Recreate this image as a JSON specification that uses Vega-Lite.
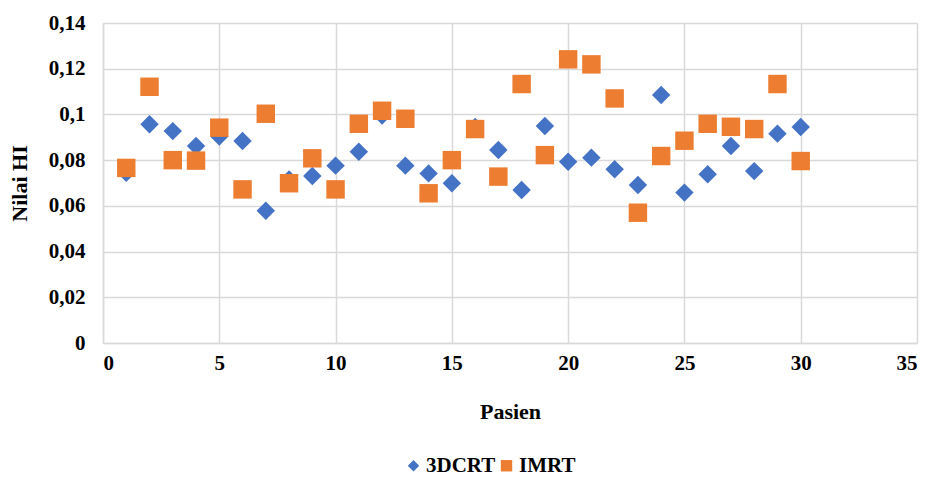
{
  "$schema": "https://vega.github.io/schema/vega-lite/v6.json",
  "width": 814,
  "height": 320,
  "autosize": {"type": "none"},
  "padding": {"left": 103, "top": 23, "right": 14, "bottom": 139},
  "background": "white",
  "data": {
    "values": [
      {"pasien": 1, "series": "3DCRT", "hi": 0.0745},
      {"pasien": 2, "series": "3DCRT", "hi": 0.0957},
      {"pasien": 3, "series": "3DCRT", "hi": 0.0927},
      {"pasien": 4, "series": "3DCRT", "hi": 0.0862},
      {"pasien": 5, "series": "3DCRT", "hi": 0.0903},
      {"pasien": 6, "series": "3DCRT", "hi": 0.0884},
      {"pasien": 7, "series": "3DCRT", "hi": 0.0579},
      {"pasien": 8, "series": "3DCRT", "hi": 0.0715},
      {"pasien": 9, "series": "3DCRT", "hi": 0.0731},
      {"pasien": 10, "series": "3DCRT", "hi": 0.0776},
      {"pasien": 11, "series": "3DCRT", "hi": 0.0837},
      {"pasien": 12, "series": "3DCRT", "hi": 0.0995},
      {"pasien": 13, "series": "3DCRT", "hi": 0.0776},
      {"pasien": 14, "series": "3DCRT", "hi": 0.0742},
      {"pasien": 15, "series": "3DCRT", "hi": 0.0699},
      {"pasien": 16, "series": "3DCRT", "hi": 0.0945},
      {"pasien": 17, "series": "3DCRT", "hi": 0.0844},
      {"pasien": 18, "series": "3DCRT", "hi": 0.0669},
      {"pasien": 19, "series": "3DCRT", "hi": 0.0949},
      {"pasien": 20, "series": "3DCRT", "hi": 0.0793},
      {"pasien": 21, "series": "3DCRT", "hi": 0.0811},
      {"pasien": 22, "series": "3DCRT", "hi": 0.0760},
      {"pasien": 23, "series": "3DCRT", "hi": 0.0691},
      {"pasien": 24, "series": "3DCRT", "hi": 0.1085},
      {"pasien": 25, "series": "3DCRT", "hi": 0.0658},
      {"pasien": 26, "series": "3DCRT", "hi": 0.0738},
      {"pasien": 27, "series": "3DCRT", "hi": 0.0862},
      {"pasien": 28, "series": "3DCRT", "hi": 0.0752},
      {"pasien": 29, "series": "3DCRT", "hi": 0.0916},
      {"pasien": 30, "series": "3DCRT", "hi": 0.0945},
      {"pasien": 1, "series": "IMRT", "hi": 0.0766},
      {"pasien": 2, "series": "IMRT", "hi": 0.1121},
      {"pasien": 3, "series": "IMRT", "hi": 0.0800},
      {"pasien": 4, "series": "IMRT", "hi": 0.0798},
      {"pasien": 5, "series": "IMRT", "hi": 0.0942},
      {"pasien": 6, "series": "IMRT", "hi": 0.0672},
      {"pasien": 7, "series": "IMRT", "hi": 0.1003},
      {"pasien": 8, "series": "IMRT", "hi": 0.0699},
      {"pasien": 9, "series": "IMRT", "hi": 0.0808},
      {"pasien": 10, "series": "IMRT", "hi": 0.0672},
      {"pasien": 11, "series": "IMRT", "hi": 0.0959},
      {"pasien": 12, "series": "IMRT", "hi": 0.1016},
      {"pasien": 13, "series": "IMRT", "hi": 0.0981},
      {"pasien": 14, "series": "IMRT", "hi": 0.0655},
      {"pasien": 15, "series": "IMRT", "hi": 0.0800},
      {"pasien": 16, "series": "IMRT", "hi": 0.0936},
      {"pasien": 17, "series": "IMRT", "hi": 0.0728},
      {"pasien": 18, "series": "IMRT", "hi": 0.1133},
      {"pasien": 19, "series": "IMRT", "hi": 0.0822},
      {"pasien": 20, "series": "IMRT", "hi": 0.1241},
      {"pasien": 21, "series": "IMRT", "hi": 0.1219},
      {"pasien": 22, "series": "IMRT", "hi": 0.1070},
      {"pasien": 23, "series": "IMRT", "hi": 0.0570},
      {"pasien": 24, "series": "IMRT", "hi": 0.0818},
      {"pasien": 25, "series": "IMRT", "hi": 0.0885},
      {"pasien": 26, "series": "IMRT", "hi": 0.0959},
      {"pasien": 27, "series": "IMRT", "hi": 0.0946},
      {"pasien": 28, "series": "IMRT", "hi": 0.0936},
      {"pasien": 29, "series": "IMRT", "hi": 0.1133},
      {"pasien": 30, "series": "IMRT", "hi": 0.0796}
    ]
  },
  "mark": {"type": "point", "filled": true, "opacity": 1, "size": 340},
  "encoding": {
    "x": {
      "field": "pasien",
      "type": "quantitative",
      "scale": {"domain": [0, 35], "nice": false},
      "axis": {
        "values": [0, 5, 10, 15, 20, 25, 30, 35],
        "title": "Pasien",
        "titlePadding": 28,
        "labelPadding": 9,
        "ticks": false
      }
    },
    "y": {
      "field": "hi",
      "type": "quantitative",
      "scale": {"domain": [0, 0.14], "nice": false},
      "axis": {
        "values": [0, 0.02, 0.04, 0.06, 0.08, 0.1, 0.12, 0.14],
        "labelExpr": "replace(format(datum.value, '~g'), '.', ',')",
        "title": "Nilai  HI",
        "titlePadding": 17,
        "labelPadding": 18,
        "ticks": false
      }
    },
    "color": {
      "field": "series",
      "type": "nominal",
      "scale": {"domain": ["3DCRT", "IMRT"], "range": ["#4472C4", "#ED7D31"]},
      "legend": {
        "title": null,
        "orient": "none",
        "direction": "horizontal",
        "legendX": 300,
        "legendY": 432,
        "symbolSize": 130,
        "columnPadding": 0,
        "labelOffset": 2
      }
    },
    "shape": {
      "field": "series",
      "type": "nominal",
      "scale": {"domain": ["3DCRT", "IMRT"], "range": ["diamond", "square"]}
    }
  },
  "config": {
    "view": {"stroke": null},
    "font": "serif",
    "axis": {
      "labelFont": "serif",
      "labelFontSize": 21,
      "labelFontWeight": "bold",
      "labelColor": "#000000",
      "titleFont": "serif",
      "titleFontSize": 22,
      "titleFontWeight": "bold",
      "titleColor": "#000000",
      "gridColor": "#D9D9D9",
      "gridWidth": 1.5,
      "domainColor": "#D9D9D9",
      "domainWidth": 1.5
    },
    "legend": {
      "labelFont": "serif",
      "labelFontSize": 21,
      "labelFontWeight": "bold",
      "labelColor": "#000000"
    }
  }
}
